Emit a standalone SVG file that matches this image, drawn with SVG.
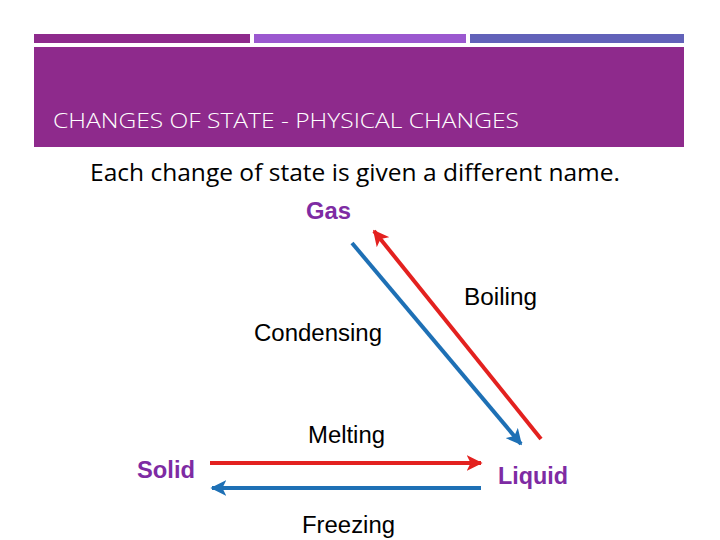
<svg xmlns="http://www.w3.org/2000/svg" width="720" height="540" viewBox="0 0 720 540">
<style>
.lbl{font-family:"Liberation Sans",Arial,sans-serif;font-size:23.5px;fill:#000}
.state{font-family:"Liberation Sans",Arial,sans-serif;font-size:23.5px;font-weight:bold;fill:#7E2BA3}
.red{stroke:#E3211F;stroke-width:4;fill:none}
.blue{stroke:#1E70B5;stroke-width:4;fill:none}
</style>
<defs>
<marker id="hr" viewBox="0 0 10 10" refX="9" refY="5" markerWidth="4" markerHeight="4" orient="auto" markerUnits="strokeWidth"><path d="M0,0 L10,5 L0,10 L2.5,5 Z" fill="#E3211F"/></marker>
<marker id="hb" viewBox="0 0 10 10" refX="9" refY="5" markerWidth="4" markerHeight="4" orient="auto" markerUnits="strokeWidth"><path d="M0,0 L10,5 L0,10 L2.5,5 Z" fill="#1E70B5"/></marker>
</defs>
<rect width="720" height="540" fill="#fff"/>
<g id="header">
<rect x="34" y="34" width="216" height="9" fill="#8E2A8C"/>
<rect x="254" y="34" width="212" height="9" fill="#9B58CF"/>
<rect x="470" y="34" width="214" height="9" fill="#6262B9"/>
<rect x="34" y="47" width="650" height="100" fill="#8E2A8C"/>
<text x="53" y="128" font-family="'Open Sans',sans-serif" font-size="21" font-weight="300" fill="#fff" textLength="466" lengthAdjust="spacingAndGlyphs">CHANGES OF STATE - PHYSICAL CHANGES</text>
</g>
<text id="subtitle" x="90" y="181" font-family="'Open Sans',sans-serif" font-size="23" fill="#000" textLength="530" lengthAdjust="spacingAndGlyphs">Each change of state is given a different name.</text>
<g id="gas"><text class="state" x="306" y="219" textLength="45" lengthAdjust="spacingAndGlyphs">Gas</text></g>
<g id="solid"><text class="state" x="137" y="478" textLength="58" lengthAdjust="spacingAndGlyphs">Solid</text></g>
<g id="liquid"><text class="state" x="498" y="484" textLength="70" lengthAdjust="spacingAndGlyphs">Liquid</text></g>
<g id="connectors">
<line class="red" x1="541" y1="439" x2="374" y2="231" marker-end="url(#hr)"/>
<line class="blue" x1="352" y1="243" x2="521" y2="444" marker-end="url(#hb)"/>
<line class="red" x1="210" y1="463" x2="481" y2="463" marker-end="url(#hr)"/>
<line class="blue" x1="481" y1="488" x2="212" y2="488" marker-end="url(#hb)"/>
<text class="lbl" x="464" y="305" textLength="73" lengthAdjust="spacingAndGlyphs">Boiling</text>
<text class="lbl" x="254" y="341" textLength="128" lengthAdjust="spacingAndGlyphs">Condensing</text>
<text class="lbl" x="308" y="443" textLength="77" lengthAdjust="spacingAndGlyphs">Melting</text>
<text class="lbl" x="302" y="533" textLength="93" lengthAdjust="spacingAndGlyphs">Freezing</text>
</g>
</svg>
